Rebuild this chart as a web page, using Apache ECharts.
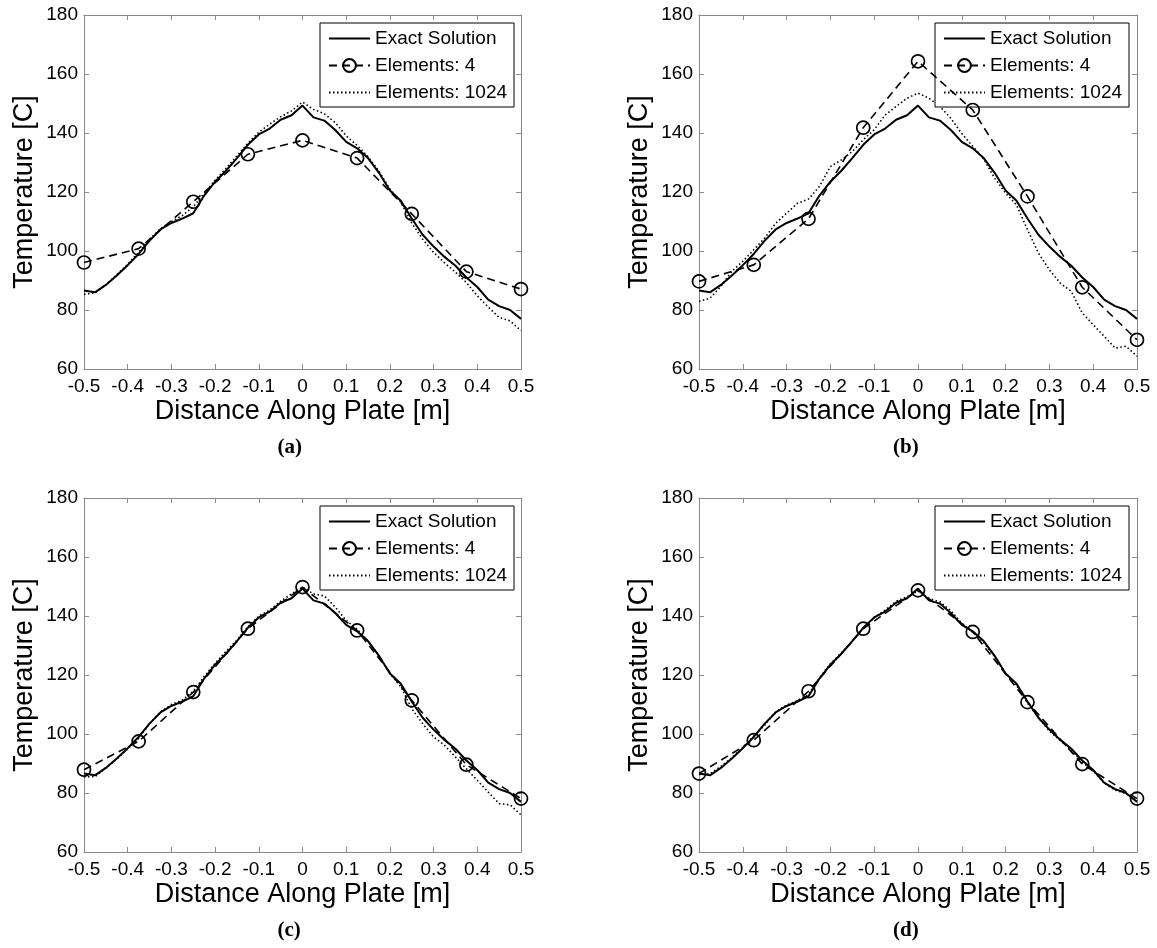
<!DOCTYPE html>
<html>
<head>
<meta charset="utf-8">
<title>Temperature along plate</title>
<script src="https://cdn.jsdelivr.net/npm/echarts@6/dist/echarts.min.js"></script>
<style>
html, body { margin: 0; padding: 0; background: #fff; }
#main { width: 1157px; height: 948px; }
</style>
</head>
<body>
<div id="main"></div>
<script>
// ---- data ----
var xFine = [-0.5, -0.475, -0.45, -0.425, -0.4, -0.375, -0.35, -0.325, -0.3, -0.275,
	-0.25, -0.225, -0.2, -0.175, -0.15, -0.125, -0.1, -0.075, -0.05, -0.025,
	0, 0.025, 0.05, 0.075, 0.1, 0.125, 0.15, 0.175, 0.2, 0.225,
	0.25, 0.275, 0.3, 0.325, 0.35, 0.375, 0.4, 0.425, 0.45, 0.475, 0.5];
var xNodes = [-0.5, -0.375, -0.25, -0.125, 0, 0.125, 0.25, 0.375, 0.5];

// exact solution (same curve in every panel)
var exactSolution = [86.6, 86.0, 88.5, 91.7, 95.2, 99.0, 103.5, 107.3, 109.5, 111.0,
	112.8, 118.8, 123.5, 127.2, 131.5, 136.0, 139.5, 141.5, 144.5, 146.0,
	149.3, 145.3, 144.2, 141.0, 137.0, 134.8, 131.5, 126.5, 120.5, 117.0,
	111.0, 105.5, 101.5, 98.0, 95.0, 91.0, 87.8, 83.5, 81.3, 80.0, 77.0];

// Elements: 4 (nodal values)
var elem4A = [96.1, 100.8, 116.7, 132.8, 137.5, 131.5, 112.6, 93.0, 87.1];
var elem4B = [89.7, 95.3, 110.9, 141.8, 164.3, 147.8, 118.5, 87.7, 69.9];
var elem4C = [87.9, 97.5, 114.2, 135.7, 149.8, 135.1, 111.4, 89.6, 78.1];
var elem4D = [86.6, 97.9, 114.5, 135.7, 148.7, 134.6, 110.8, 89.8, 78.1];

// Elements: 1024
var elem1024A = [85.3, 85.8, 88.5, 92.0, 95.5, 99.5, 104.0, 107.5, 110.0, 112.0,
	115.0, 119.5, 124.0, 128.0, 132.3, 136.5, 140.3, 143.0, 145.5, 147.5,
	150.5, 148.0, 146.5, 143.5, 139.0, 135.8, 132.0, 127.0, 121.0, 116.5,
	109.5, 104.0, 99.5, 96.0, 92.8, 89.3, 84.8, 81.0, 77.5, 76.3, 73.0];
var elem1024B = [82.9, 84.0, 88.0, 93.1, 96.5, 100.4, 104.4, 109.4, 112.8, 116.2,
	117.6, 121.9, 128.6, 130.9, 133.7, 137.7, 141.1, 146.1, 149.0, 151.8,
	153.5, 151.8, 149.0, 145.0, 139.8, 135.5, 131.2, 124.7, 119.6, 115.6,
	107.2, 99.3, 93.6, 89.1, 86.3, 79.0, 75.0, 71.1, 67.1, 67.7, 64.3];
var elem1024C = [85.5, 85.5, 88.5, 91.5, 95.0, 98.5, 103.5, 107.5, 110.0, 111.5,
	114.5, 119.5, 124.0, 128.0, 131.8, 136.3, 140.0, 142.0, 145.0, 147.5,
	149.8, 147.5, 146.8, 143.0, 138.5, 135.5, 131.5, 126.5, 120.5, 116.0,
	108.6, 103.5, 99.0, 96.2, 92.2, 88.2, 84.3, 80.3, 76.4, 76.0, 72.6];
var elem1024D = [86.3, 86.5, 89.0, 92.0, 95.5, 99.3, 103.0, 107.5, 109.8, 111.3,
	113.5, 119.0, 123.8, 127.5, 131.5, 135.8, 139.5, 142.0, 145.0, 146.5,
	148.5, 146.0, 144.8, 141.8, 137.5, 134.5, 131.0, 126.3, 120.5, 116.5,
	110.5, 105.5, 101.0, 97.8, 94.5, 90.5, 87.5, 83.3, 81.0, 79.8, 77.3];

var seriesNames = ['Exact Solution', 'Elements: 4', 'Elements: 1024'];
var captions = ['(a)', '(b)', '(c)', '(d)'];
var elem4Sets = [elem4A, elem4B, elem4C, elem4D];
var elem1024Sets = [elem1024A, elem1024B, elem1024C, elem1024D];

// ---- layout (pixels) ----
var panelBoxes = [
	{ left: 84, top: 15, width: 437, height: 354 },
	{ left: 699, top: 15, width: 438, height: 354 },
	{ left: 84, top: 498, width: 437, height: 354 },
	{ left: 699, top: 498, width: 438, height: 354 }
];

function pairs(xs, ys) {
	return xs.map(function (x, i) { return [x, ys[i]]; });
}

var FONT = 'Liberation Sans';
var axisGrey = '#8a8a8a';

// legend entries: only the circle series shows a marker
var legendData = [
	{ name: seriesNames[0], itemStyle: { opacity: 0 } },
	{ name: seriesNames[1] },
	{ name: seriesNames[2], itemStyle: { opacity: 0 } }
];

var option = {
	backgroundColor: '#fff',
	animation: false,
	grid: [],
	xAxis: [],
	yAxis: [],
	legend: [],
	series: [],
	graphic: []
};

panelBoxes.forEach(function (box, i) {
	option.grid.push({ left: box.left, top: box.top, width: box.width, height: box.height });

	var tick = { show: true, inside: true, length: 5, lineStyle: { color: axisGrey, width: 1 } };
	var line = { show: true, onZero: false, lineStyle: { color: axisGrey, width: 1 } };

	// bottom x (labels) + top x (ticks only)
	option.xAxis.push({
		type: 'value', gridIndex: i, position: 'bottom',
		min: -0.5, max: 0.5, interval: 0.1,
		axisLine: line, axisTick: tick, splitLine: { show: false },
		axisLabel: { color: '#000', fontFamily: FONT, fontSize: 19, margin: 8 },
		name: 'Distance Along Plate [m]', nameLocation: 'middle', nameGap: 29,
		nameTextStyle: { color: '#000', fontFamily: FONT, fontSize: 27 }
	});
	option.xAxis.push({
		type: 'value', gridIndex: i, position: 'top',
		min: -0.5, max: 0.5, interval: 0.1,
		axisLine: line, axisTick: tick, splitLine: { show: false },
		axisLabel: { show: false }
	});
	// left y (labels) + right y (ticks only)
	option.yAxis.push({
		type: 'value', gridIndex: i, position: 'left',
		min: 60, max: 180, interval: 20,
		axisLine: line, axisTick: tick, splitLine: { show: false },
		axisLabel: { color: '#000', fontFamily: FONT, fontSize: 19, margin: 6 },
		name: 'Temperature [C]', nameLocation: 'middle', nameGap: 46,
		nameTextStyle: { color: '#000', fontFamily: FONT, fontSize: 27 }
	});
	option.yAxis.push({
		type: 'value', gridIndex: i, position: 'right',
		min: 60, max: 180, interval: 20,
		axisLine: line, axisTick: tick, splitLine: { show: false },
		axisLabel: { show: false }
	});

	var xi = 2 * i, yi = 2 * i;
	option.series.push({
		name: seriesNames[0], type: 'line', xAxisIndex: xi, yAxisIndex: yi,
		data: pairs(xFine, exactSolution), symbol: 'none',
		lineStyle: { color: '#000', width: 2 }, itemStyle: { color: '#000' }, z: 3
	});
	option.series.push({
		name: seriesNames[1], type: 'line', xAxisIndex: xi, yAxisIndex: yi,
		data: pairs(xNodes, elem4Sets[i]), symbol: 'circle', symbolSize: 13,
		lineStyle: { color: '#000', width: 1.6, type: [8, 5] },
		itemStyle: { color: 'rgba(0,0,0,0)', borderColor: '#000', borderWidth: 1.7 }, z: 4
	});
	option.series.push({
		name: seriesNames[2], type: 'line', xAxisIndex: xi, yAxisIndex: yi,
		data: pairs(xFine, elem1024Sets[i]), symbol: 'none',
		lineStyle: { color: '#000', width: 1.6, type: [1.5, 2.5] }, itemStyle: { color: '#000' }, z: 2
	});

	option.legend.push({
		left: box.left + 236, top: box.top + 8,
		orient: 'vertical', data: legendData, selectedMode: false,
		itemWidth: 41, itemHeight: 16, itemGap: 8,
		padding: [6, 7, 5, 8],
		borderColor: '#000', borderWidth: 1, borderRadius: 0, backgroundColor: '#fff',
		textStyle: { color: '#000', fontFamily: FONT, fontSize: 19 }
	});

	option.graphic.push({
		type: 'text', left: box.left + box.width / 2 - 13 - 12, top: box.top + box.height + 68,
		style: { text: captions[i], fill: '#000', font: 'bold 21px "Liberation Serif"' }
	});
});

var myChart = echarts.init(document.getElementById('main'));
myChart.setOption(option);
</script>
</body>
</html>
